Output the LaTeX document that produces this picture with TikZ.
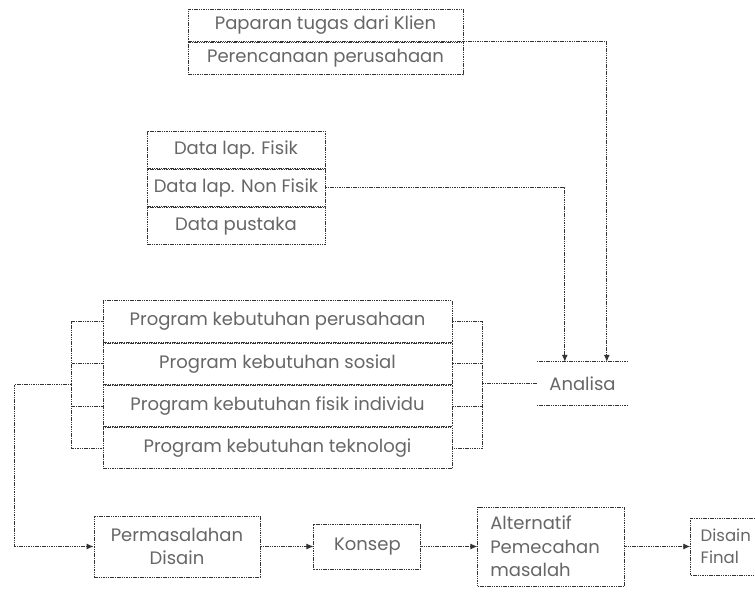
\documentclass[tikz,border=0pt]{standalone}
\usepackage{fontspec}
\setmainfont{Poppins}
\usetikzlibrary{positioning, arrows.meta}

\begin{document}
\begin{tikzpicture}[x=1pt,y=-1pt,>={Latex[length=7pt,width=6pt]},
    garis/.style={draw=black!80, line width=0.9pt, dash pattern=on 1.5pt off 0.8pt},
    huruf/.style={text=black!60, font=\fontsize{18}{23.5}\selectfont},
    kotak/.style={garis, huruf, inner sep=0pt, minimum width=#1}]
    \clip (0,0) rectangle (755,593);
    % sumber data
    \node[kotak=275pt, minimum height=32.5pt] (paparan) at (325.5,25.25) {Paparan tugas dari Klien};
    \node[kotak=275pt, minimum height=32.5pt, below=0pt of paparan] (perencanaan) {Perencanaan perusahaan};
    \node[kotak=178pt, minimum height=37.3pt] (datafisik) at (236,149.7) {Data lap. Fisik};
    \node[kotak=178pt, minimum height=37.3pt, below=0pt of datafisik] (datanonfisik) {Data lap. Non Fisik};
    \node[kotak=178pt, minimum height=37.3pt, below=0pt of datanonfisik] (datapustaka) {Data pustaka};
    % program kebutuhan
    \node[kotak=349pt, minimum height=41.3pt] (progperusahaan) at (277.5,321.6) {Program kebutuhan perusahaan};
    \node[kotak=349pt, minimum height=41.3pt, below=0pt of progperusahaan] (progsosial) {Program kebutuhan sosial};
    \node[kotak=349pt, minimum height=41.3pt, below=0pt of progsosial] (progfisik) {Program kebutuhan fisik individu};
    \node[kotak=349pt, minimum height=41.3pt, below=0pt of progfisik] (progteknologi) {Program kebutuhan teknologi};
    \node[huruf, minimum width=91pt, minimum height=43pt] (analisa) at (582.5,383.5) {Analisa};
    \draw[garis] (analisa.north west) -- (analisa.north east);
    \draw[garis] (analisa.south west) -- (analisa.south east);
    % proses desain
    \node[kotak=166pt, minimum height=61pt, align=center] (permasalahan) at (177,546.5) {Permasalahan\\Disain};
    \node[kotak=107pt, minimum height=45pt, right=53pt of permasalahan] (konsep) {Konsep};
    \node[kotak=147pt, minimum height=79pt, text width=122pt, align=left, right=56pt of konsep] (alternatif) {Alternatif\\Pemecahan\\masalah};
    \node[kotak=90pt, minimum height=57pt, text width=70pt, align=left, font=\fontsize{16.5}{22}\selectfont, right=65pt of alternatif] (final) {Disain\\Final};

    \coordinate (brkanan) at ([xshift=30pt]progperusahaan.east);
    \coordinate (brkiri) at ([xshift=-31pt]progsosial.south west);

    \draw[garis,->] (paparan.south east) -| ([xshift=70pt]analisa.north west);
    \draw[garis,->] (datanonfisik.east) -| ([xshift=28pt]analisa.north west);
    \draw[garis] (progperusahaan.east) -- (brkanan) |- (progteknologi.east);
    \draw[garis] (progsosial.east) -- (progsosial.east -| brkanan);
    \draw[garis] (progfisik.east) -- (progfisik.east -| brkanan);
    \draw[garis] (analisa.west) -- (analisa.west -| brkanan);
    \draw[garis] (progperusahaan.west) -- (progperusahaan.west -| brkiri) |- (progteknologi.west);
    \draw[garis] (progsosial.west) -- (progsosial.west -| brkiri);
    \draw[garis] (progfisik.west) -- (progfisik.west -| brkiri);
    \draw[garis,->] (brkiri) -- ++(-57,0) |- (permasalahan.west);
    \draw[garis,->] (permasalahan) -- (konsep);
    \draw[garis,->] (konsep) -- (alternatif);
    \draw[garis,->] (alternatif) -- (final);
\end{tikzpicture}
\end{document}
